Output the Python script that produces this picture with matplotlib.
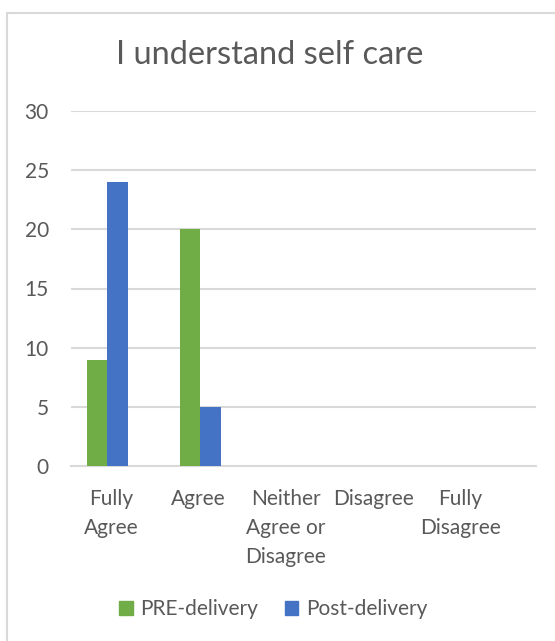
import numpy as np
import matplotlib.pyplot as plt
from matplotlib.patches import Rectangle, Patch

plt.rcParams['font.family'] = ['Lato', 'DejaVu Sans']

# Data
categories = ['Fully\nAgree', 'Agree', 'Neither\nAgree or\nDisagree', 'Disagree', 'Fully\nDisagree']
pre_delivery = [9, 20, 0, 0, 0]
post_delivery = [24, 5, 0, 0, 0]

text_col = '#595959'
grid_col = '#d9d9d9'
green = '#70ad47'
blue = '#4472c4'

W, H = 555, 641
fig = plt.figure(figsize=(W / 100, H / 100), dpi=100)

# chart frame (left and top edge visible)
fig.patches.append(Rectangle((6.5 / W, -0.1), 1.2, (H - 12.5) / H + 0.1,
                             transform=fig.transFigure, fill=False,
                             edgecolor=grid_col, linewidth=1.5))

ax = fig.add_axes([71 / W, (H - 466) / H, (536 - 71) / W, (466 - 111) / H])

x = np.arange(len(categories))
bw = 0.22
ax.bar(x - bw, pre_delivery, width=bw, color=green, label='PRE-delivery', zorder=3)
ax.bar(x, post_delivery, width=bw, color=blue, label='Post-delivery', zorder=3)

ax.set_xlim(-0.5, len(categories) - 0.5)
ax.set_ylim(0, 30)
ax.set_yticks(np.arange(0, 31, 5))
ax.yaxis.grid(True, color=grid_col, linewidth=1.5, zorder=0)
for s in ['top', 'right', 'left']:
    ax.spines[s].set_visible(False)
ax.spines['bottom'].set_color(grid_col)
ax.spines['bottom'].set_linewidth(1.5)
ax.tick_params(axis='both', length=0, colors=text_col, labelsize=15)
ax.tick_params(axis='y', pad=16)
ax.tick_params(axis='x', pad=16.5)

ax.set_xticks(x - 0.07 - 0.06 * x)
ax.set_xticklabels(categories, linespacing=1.55, va='top')

fig.text(270 / W, 1 - 55 / H, 'I understand self care', ha='center', va='center',
         fontsize=23.5, color=text_col)

handles = [Patch(color=green), Patch(color=blue)]
fig.legend(handles, ['PRE-delivery', 'Post-delivery'], loc='center',
           bbox_to_anchor=(273 / W, 1 - 609 / H), ncol=2, frameon=False,
           fontsize=15, labelcolor=text_col, handlelength=0.65, handleheight=0.65,
           handletextpad=0.35, columnspacing=1.3)

fig.savefig('out.png', dpi=100)
